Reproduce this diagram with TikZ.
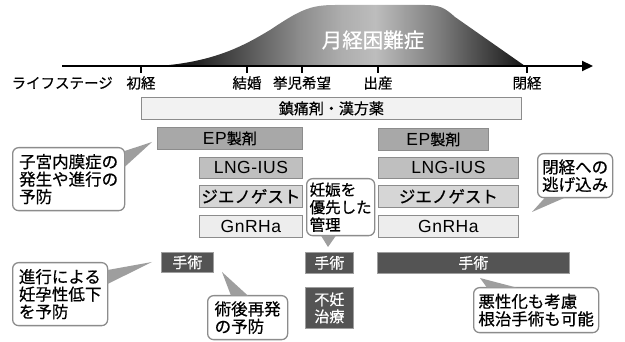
\documentclass[tikz,border=0pt]{standalone}
\usepackage{fontspec}
\setmainfont{Noto Sans CJK JP}[FakeBold=0.6]
\newfontfamily\lat{Liberation Sans}[LetterSpace=3]
\usetikzlibrary{arrows.meta,calc}
\definecolor{s0}{rgb}{0.04,0.04,0.04}
\definecolor{s1}{rgb}{0.15,0.15,0.15}
\definecolor{s2}{rgb}{0.35,0.35,0.35}
\definecolor{s3}{rgb}{0.55,0.55,0.55}
\definecolor{s4}{rgb}{0.68,0.68,0.68}
\definecolor{s5}{rgb}{0.74,0.74,0.74}
\definecolor{s6}{rgb}{0.62,0.62,0.62}
\definecolor{s7}{rgb}{0.50,0.50,0.50}
\definecolor{s8}{rgb}{0.34,0.34,0.34}
\definecolor{s9}{rgb}{0.20,0.20,0.20}
\definecolor{s10}{rgb}{0.08,0.08,0.08}
\pgfdeclarehorizontalshading{mshade}{100bp}{color(0bp)=(s0); color(25bp)=(s0); color(30.7bp)=(s1); color(37.5bp)=(s2); color(44.3bp)=(s3); color(50bp)=(s4); color(54.6bp)=(s5); color(58.7bp)=(s6); color(63bp)=(s7); color(67.5bp)=(s8); color(71.6bp)=(s9); color(75bp)=(s10); color(100bp)=(s10)}
\definecolor{boxline}{gray}{0.55}
\definecolor{chinc}{gray}{0.95}
\definecolor{epc}{gray}{0.66}
\definecolor{lngc}{gray}{0.75}
\definecolor{dienc}{gray}{0.84}
\definecolor{gnc}{gray}{0.93}
\definecolor{darkc}{gray}{0.33}
\definecolor{darkline}{gray}{0.62}
\definecolor{calline}{gray}{0.55}
\definecolor{tailc}{gray}{0.62}
\newcommand\epjp{{\rmfamily\fontsize{15}{17}\selectfont 製剤}}
\begin{document}
\begin{tikzpicture}[x=1pt,y=-1pt,
  lbl/.style={font=\fontsize{14.5}{16}\selectfont, inner sep=0pt},
  gbox/.style={draw=boxline, line width=0.8pt, inner sep=0pt, anchor=north west, font=\fontsize{16}{18}\selectfont},
  latbox/.style={gbox, font=\lat\fontsize{17.5}{19}\selectfont},
  dbox/.style={draw=darkline, fill=darkc, line width=0.8pt, inner sep=0pt, anchor=north west, text=white, align=center, font=\fontsize{15}{17}\selectfont},
  callout/.style={draw=calline, fill=white, line width=1.3pt, rounded corners=6pt, inner sep=0pt, anchor=north west, align=left, font=\fontsize{16.5}{17.5}\selectfont},
  tail/.style={fill=tailc},
  tick/.style={line width=1.2pt},
  axisline/.style={line width=2.2pt}]
\useasboundingbox (0,0) rectangle (625,342);

% menstrual pain curve
\shade[shading=mshade] (158,66) .. controls (215,62) and (245,45) .. (270,30)
  .. controls (300,10) and (310,5) .. (335,5) -- (425,5)
  .. controls (440,5) and (445,8) .. (455,17) -- (525,66) -- cycle;
\node[font=\fontsize{20.5}{22}\selectfont, text=white, inner sep=0pt] (mp) at (373,40) {月経困難症};

% axis
\coordinate (axstart) at (62,66);
\coordinate (axtip) at (593,66);
\draw[axisline, -{Triangle[length=11pt,width=10pt]}] (axstart) -- (axtip);
\foreach \n/\x in {t1/141, t2/247, t3/302, t4/378, t5/527} {
  \coordinate (\n) at (\x,66);
  \draw[tick] (\n) -- ++(0,7);
}
\node[lbl, anchor=east] (life) at (113,83) {ライフステージ};
\node[lbl] (l1) at (141,83) {初経};
\node[lbl] (l2) at (247,83) {結婚};
\node[lbl] (l3) at (302,83) {挙児希望};
\node[lbl] (l4) at (378,83) {出産};
\node[lbl] (l5) at (527,83) {閉経};

% therapy boxes
\node[gbox, fill=chinc, minimum width=380pt, minimum height=22pt, font=\fontsize{15}{17}\selectfont] (chin) at (141,97) {鎮痛剤・漢方薬};
\node[latbox, fill=epc, minimum width=145pt, minimum height=22pt] (ep1) at (157,127) {EP\epjp};
\node[latbox, fill=epc, minimum width=110pt, minimum height=22pt] (ep2) at (378,128) {EP\epjp};
\node[latbox, fill=lngc, minimum width=103pt, minimum height=21pt] (lng1) at (199,157) {LNG-IUS};
\node[latbox, fill=lngc, minimum width=140pt, minimum height=21pt] (lng2) at (378,157) {LNG-IUS};
\node[gbox, fill=dienc, minimum width=103pt, minimum height=22pt, font=\fontsize{16.5}{18}\selectfont] (die1) at (199,185) {ジエノゲスト};
\node[gbox, fill=dienc, minimum width=140pt, minimum height=22pt, font=\fontsize{16.5}{18}\selectfont] (die2) at (378,185) {ジエノゲスト};
\node[latbox, fill=gnc, minimum width=103pt, minimum height=22pt] (gn1) at (199,215) {GnRHa};
\node[latbox, fill=gnc, minimum width=140pt, minimum height=22pt] (gn2) at (378,215) {GnRHa};

% surgery / infertility
\node[dbox, minimum width=52pt, minimum height=20pt] (op1) at (161,252) {手術};
\node[dbox, minimum width=48pt, minimum height=21pt] (op2) at (305,252) {手術};
\node[dbox, minimum width=192pt, minimum height=21pt] (op3) at (377,252) {手術};
\node[dbox, minimum width=48pt, minimum height=41pt] (inf) at (305,287) {不妊\\治療};

% callouts
\node[callout, minimum width=112pt, minimum height=63pt] (cA) at (12,147) {子宮内膜症の\\発生や進行の\\予防};
\coordinate (tipA) at (152,142);
\fill[tail] ($(cA.north east)+(-0.7,4)$) -- (tipA) -- ($(cA.north east)+(-0.7,20)$) -- cycle;

\node[callout, minimum width=95pt, minimum height=63pt] (cB) at (12,262) {進行による\\妊孕性低下\\を予防};
\coordinate (tipB) at (152,262);
\fill[tail] ($(cB.north east)+(-0.7,8)$) -- (tipB) -- ($(cB.north east)+(-0.7,22)$) -- cycle;

\node[callout, minimum width=80pt, minimum height=44pt] (cC) at (207,295) {術後再発\\の予防};
\coordinate (tipC) at (222,272);
\fill[tail] ($(cC.north west)+(24,0.7)$) -- (tipC) -- ($(cC.north west)+(41,0.7)$) -- cycle;

\node[callout, minimum width=68pt, minimum height=57pt, font=\fontsize{15.5}{17.5}\selectfont] (cD) at (306,178) {妊娠を\\優先した\\管理};
\coordinate (tipD) at (328,247);
\fill[tail] ($(cD.south west)+(15,-0.7)$) -- (tipD) -- ($(cD.south west)+(30,-0.7)$) -- cycle;

\node[callout, minimum width=75pt, minimum height=44pt] (cE) at (537,153) {閉経への\\逃げ込み};
\coordinate (tipE) at (532,212);
\fill[tail] ($(cE.south west)+(8,-0.7)$) -- (tipE) -- ($(cE.south west)+(28,-0.7)$) -- cycle;

\node[callout, minimum width=125pt, minimum height=45pt] (cF) at (473,287) {悪性化も考慮\\根治手術も可能};
\coordinate (tipF) at (480,278);
\fill[tail] ($(cF.north west)+(14,0.7)$) -- (tipF) -- ($(cF.north west)+(44,0.7)$) -- cycle;
\end{tikzpicture}
\end{document}
